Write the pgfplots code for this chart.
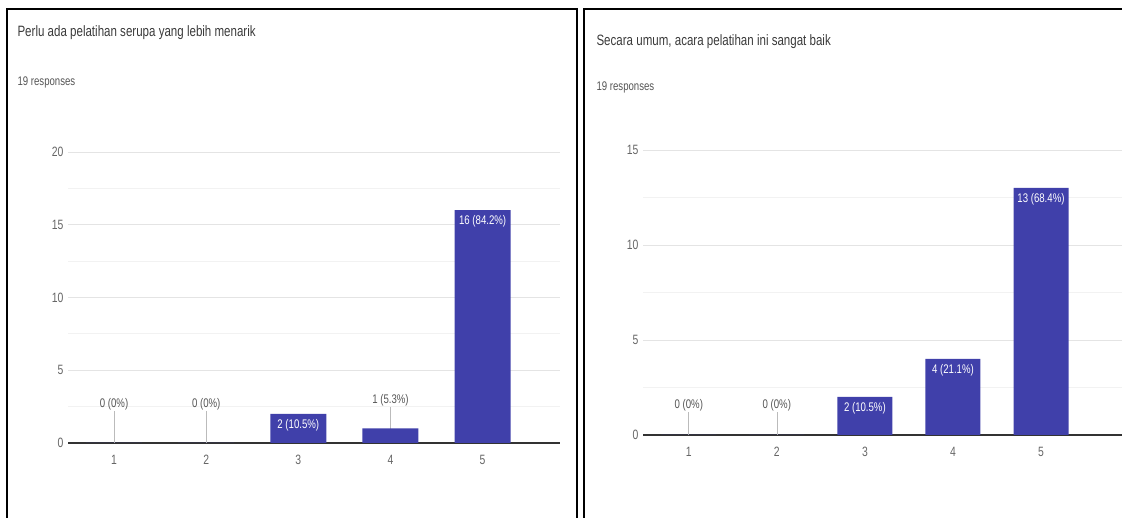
\documentclass[border=0pt]{standalone}
\usepackage{fontspec}
\setmainfont[FakeStretch=0.77]{Liberation Sans}
\usepackage{pgfplots}
\pgfplotsset{compat=1.18}
\definecolor{barc}{HTML}{4040AA}
\definecolor{gridc}{HTML}{E4E4E4}
\definecolor{minorc}{HTML}{F2F2F2}
\definecolor{axisc}{HTML}{333333}
\definecolor{titlec}{HTML}{3A3A3A}
\definecolor{subc}{HTML}{555555}
\definecolor{tickc}{HTML}{666666}
\definecolor{labelc}{HTML}{555555}
\definecolor{leaderc}{HTML}{BBBBBB}
\pgfplotsset{
  formsaxis/.style={
    anchor=south west, scale only axis,
    xtick={1,2,3,4,5},
    ymajorgrids, yminorgrids,
    major grid style={draw=gridc, line width=0.8pt},
    minor grid style={draw=minorc, line width=0.8pt},
    axis line style={draw=none},
    major tick length=0pt, minor tick length=0pt,
    tick label style={font=\fontsize{13.5}{13.5}\selectfont, text=tickc},
    /pgf/number format/assume math mode=true,
    xticklabel style={yshift=-9pt},
    yticklabel style={xshift=-1pt},
    extra y ticks={0},
    extra y tick labels={},
    extra y tick style={major grid style={draw=axisc, line width=1.6pt}},
    clip=false,
  },
  leader/.style={ycomb, draw=leaderc, line width=0.6pt, mark=none,
    nodes near coords, point meta=explicit symbolic,
    nodes near coords style={anchor=south, text=labelc, inner sep=1pt,
      font=\fontsize{12.5}{12.5}\selectfont}},
  inbar/.style={ybar, bar width=#1, fill=barc, draw=none,
    nodes near coords, point meta=explicit symbolic,
    nodes near coords style={anchor=north, text=white, yshift=-2pt,
      font=\fontsize{12.5}{12.5}\selectfont}},
  plainbar/.style={ybar, bar width=#1, fill=barc, draw=none},
}
\begin{document}
\begin{tikzpicture}[x=1pt,y=1pt]
\useasboundingbox (0,0) rectangle (1122,518);
% panel frames
\draw[line width=1.8pt] (7,0) -- (7,509) -- (577,509) -- (577,0);
\draw[line width=1.1pt] (584,0) -- (584,509) -- (1122,509);
% titles
\node[anchor=west, text=titlec, font=\fontsize{15}{15}\selectfont] at (14,485) {Perlu ada pelatihan serupa yang lebih menarik};
\node[anchor=west, text=subc, font=\fontsize{12.5}{12.5}\selectfont] at (14,436) {19 responses};
\node[anchor=west, text=titlec, font=\fontsize{15}{15}\selectfont] at (593,476) {Secara umum, acara pelatihan ini sangat baik};
\node[anchor=west, text=subc, font=\fontsize{12.5}{12.5}\selectfont] at (593,431) {19 responses};
% left chart
\begin{axis}[formsaxis, at={(68pt,75pt)}, width=492pt, height=291pt,
  xmin=0.5, xmax=5.84, ymin=0, ymax=20,
  ytick={0,5,10,15,20}, minor ytick={2.5,7.5,12.5,17.5}]
\addplot[leader] coordinates {(1,2.2) [0 (0\%)] (2,2.2) [0 (0\%)] (4,2.45) [1 (5.3\%)]};
\addplot[plainbar=56pt] coordinates {(1,0) (2,0) (4,1)};
\addplot[inbar=56pt] coordinates {(3,2) [2 (10.5\%)] (5,16) [16 (84.2\%)]};
\end{axis}
% right chart
\begin{axis}[formsaxis, at={(643pt,83pt)}, width=479pt, height=285pt,
  xmin=0.48, xmax=5.92, ymin=0, ymax=15,
  ytick={0,5,10,15}, minor ytick={2.5,7.5,12.5}]
\addplot[leader] coordinates {(1,1.2) [0 (0\%)] (2,1.2) [0 (0\%)]};
\addplot[plainbar=55pt] coordinates {(1,0) (2,0)};
\addplot[inbar=55pt] coordinates {(3,2) [2 (10.5\%)] (4,4) [4 (21.1\%)] (5,13) [13 (68.4\%)]};
\end{axis}
\end{tikzpicture}
\end{document}
